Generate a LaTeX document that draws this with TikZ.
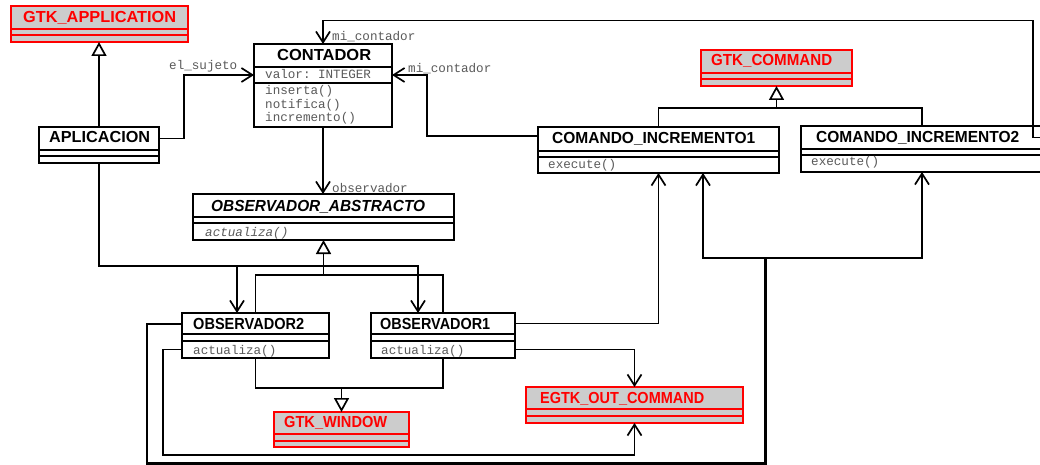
\documentclass[tikz,border=0pt]{standalone}
\usepackage{fontspec}
\setmainfont{Liberation Sans}
\setmonofont{Liberation Mono}
\usepackage{graphicx}
\usetikzlibrary{arrows.meta,calc,fit}

\definecolor{libfill}{RGB}{204,204,204}
\definecolor{membergray}{RGB}{90,90,90}

\tikzset{
  classbox/.style={draw=black, fill=white, line width=1.9pt, inner sep=0pt, outer sep=0pt},
  libbox/.style={draw=red, fill=libfill, line width=1.7pt, inner sep=0pt, outer sep=0pt},
  conn/.style={line width=1.7pt, line join=miter},
  assoc/.style={conn, -{Straight Barb[length=11pt,width=14pt]}},
  inherit/.style={conn, -{Triangle[open,length=14pt,width=15pt]}},
  classname/.style={anchor=base west, inner sep=0pt, font=\fontsize{16}{18}\selectfont\bfseries},
  libname/.style={classname, text=red},
  member/.style={anchor=base west, inner sep=0pt, text=membergray, font=\fontsize{12.6}{14}\selectfont\ttfamily},
  rolelabel/.style={member},
}

% UML class: name, style, x, y, width, title height, attribute height, method height
\newcommand{\umlclass}[8]{%
  \node[#2, anchor=north west, minimum width=#5pt, minimum height=#6pt] (#1-t) at (#3,#4) {};
  \node[#2, anchor=north west, minimum width=#5pt, minimum height=#7pt] (#1-a) at (#1-t.south west) {};
  \node[#2, anchor=north west, minimum width=#5pt, minimum height=#8pt] (#1-m) at (#1-a.south west) {};
  \node[fit=(#1-t)(#1-m), inner sep=0pt, outer sep=0pt] (#1) {};
}

\begin{document}
\begin{tikzpicture}[x=1pt, y=-1pt]
\useasboundingbox (0,0) rectangle (1040,465);
\fill[white] (0,0) rectangle (1040,465);
\clip (0,0) rectangle (1040,465);

% ---------- classes ----------
\umlclass{gtkapp}{libbox}{11}{6}{177}{23}{6}{7}
\umlclass{apl}{classbox}{39}{127}{120}{23}{6}{7}
\umlclass{cont}{classbox}{254}{44}{138}{23}{16}{44}
\umlclass{gtkcmd}{libbox}{701}{50}{151}{23}{6}{7}
\umlclass{ci1}{classbox}{538}{127}{241}{24}{6}{16}
\umlclass{ci2}{classbox}{801}{126}{242}{23}{6}{17}
\umlclass{oa}{classbox}{193}{194}{261}{23}{6}{17}
\umlclass{obs2}{classbox}{182}{313}{147}{21}{7}{17}
\umlclass{obs1}{classbox}{371}{313}{144}{21}{7}{17}
\umlclass{gtkwin}{libbox}{274}{412}{135}{22}{7}{6}
\umlclass{egtk}{libbox}{526}{387}{217}{22}{7}{7}

% ---------- class names ----------
\node[libname] (gtkapp-name) at ($(gtkapp.north west)+(12,17)$) {\resizebox{153pt}{\height}{GTK\_APPLICATION}};
\node[classname] (apl-name) at ($(apl.north west)+(10,16)$) {\resizebox{101pt}{\height}{APLICACION}};
\node[classname] (cont-name) at ($(cont.north west)+(23,17)$) {\resizebox{94pt}{\height}{CONTADOR}};
\node[libname] (gtkcmd-name) at ($(gtkcmd.north west)+(10,16)$) {\resizebox{121pt}{\height}{GTK\_COMMAND}};
\node[classname] (ci1-name) at ($(ci1.north west)+(14,17)$) {\resizebox{203pt}{\height}{COMANDO\_INCREMENTO1}};
\node[classname] (ci2-name) at ($(ci2.north west)+(15,17)$) {\resizebox{203pt}{\height}{COMANDO\_INCREMENTO2}};
\node[classname, font=\fontsize{16}{18}\selectfont\bfseries\itshape] (oa-name) at ($(oa.north west)+(18,17)$) {\resizebox{214pt}{\height}{OBSERVADOR\_ABSTRACTO}};
\node[classname] (obs2-name) at ($(obs2.north west)+(11,16)$) {\resizebox{111pt}{\height}{OBSERVADOR2}};
\node[classname] (obs1-name) at ($(obs1.north west)+(9,16)$) {\resizebox{110pt}{\height}{OBSERVADOR1}};
\node[libname] (gtkwin-name) at ($(gtkwin.north west)+(10,15)$) {\resizebox{103pt}{\height}{GTK\_WINDOW}};
\node[libname] (egtk-name) at ($(egtk.north west)+(14,16)$) {\resizebox{164pt}{\height}{EGTK\_OUT\_COMMAND}};

% ---------- members ----------
\node[member] (cont-valor) at ($(cont.north west)+(11,35)$) {valor: INTEGER};
\node[member] (cont-inserta) at ($(cont.north west)+(11,51)$) {inserta()};
\node[member] (cont-notifica) at ($(cont.north west)+(11,64.5)$) {notifica()};
\node[member] (cont-incremento) at ($(cont.north west)+(11,78)$) {incremento()};
\node[member] (ci1-execute) at ($(ci1.north west)+(10,41)$) {execute()};
\node[member] (ci2-execute) at ($(ci2.north west)+(10,40)$) {execute()};
\node[member, font=\fontsize{12.6}{14}\selectfont\ttfamily\itshape] (oa-actualiza) at ($(oa.north west)+(12,42)$) {actualiza()};
\node[member] (obs2-actualiza) at ($(obs2.north west)+(11,41)$) {actualiza()};
\node[member] (obs1-actualiza) at ($(obs1.north west)+(10,41)$) {actualiza()};

% ---------- generalisations ----------
\draw[inherit] (apl.north) -- (apl.north |- gtkapp.south);

\coordinate (cmdjoin) at ($(gtkcmd.south)+(0,22)$);
\draw[conn] (ci1.north) |- (cmdjoin) -| (ci2.north);
\draw[inherit] (cmdjoin) -- (gtkcmd.south);

\coordinate (obsjoin) at ($(oa.south)+(0,35)$);
\draw[conn] (obs2.north) |- (obsjoin) -| (obs1.north);
\draw[inherit] (obsjoin) -- (oa.south);

\coordinate (winjoin) at ($(gtkwin.north)+(0,-24)$);
\draw[conn] (obs2.south) |- (winjoin) -| (obs1.south);
\draw[inherit] (winjoin) -- (gtkwin.north);

% ---------- associations ----------
\draw[assoc] (apl-t.east) -- ++(25,0) |- (cont-a.west);
\draw[assoc] (ci2-t.east) -- ++(-10,0) -- ++(0,-117) -| (cont.north);
\draw[assoc] ([yshift=3pt]ci1-t.west) -- ++(-111,0) |- (cont-a.east);
\draw[assoc] (cont.south) -- (cont.south |- oa.north);

\coordinate (aplturn) at ($(apl.south)+(0,103)$);
\coordinate (o2in) at ($(obs2.north west)+(55,0)$);
\coordinate (o1in) at ($(obs1.north west)+(47,0)$);
\draw[assoc] (apl.south) |- (o2in |- aplturn) -- (o2in);
\draw[assoc] (apl.south) |- (o1in |- aplturn) -- (o1in);

\coordinate (cmdsplit) at ($(ci1.south east)+(-14,85)$);
\coordinate (c1in) at ($(ci1.south)+(44.5,0)$);
\draw[assoc] (obs2-t.west) -- ++(-35,0) |- ($(cmdsplit)+(0,205)$) -- (cmdsplit) -| (c1in);
\draw[assoc] ([xshift=-0.8pt,yshift=-0.8pt]obs2-t.west) -- ++(-34.2,0) |- ($(cmdsplit)+(0.8,205.8)$) -- ($(cmdsplit)+(0.8,0)$) -- (cmdsplit) -| (ci2.south);

\draw[assoc] (obs2-m.west) -- ++(-19,0) |- ($(egtk.south)+(0,32)$) -- (egtk.south);
\draw[assoc] (obs1-t.east) -| (ci1.south);
\draw[assoc] (obs1-m.east) -| (egtk.north);

% ---------- role names ----------
\node[rolelabel] (lbl-sujeto) at ($(cont-a.west)+(-85,-5)$) {el\_sujeto};
\node[rolelabel] (lbl-contador-top) at ($(cont.north)+(9,-3)$) {mi\_contador};
\node[rolelabel] (lbl-contador-side) at ($(cont-a.east)+(16,-2)$) {mi\_contador};
\node[rolelabel] (lbl-observador) at ($(oa.north)+(8.5,-1.5)$) {observador};
\end{tikzpicture}
\end{document}
